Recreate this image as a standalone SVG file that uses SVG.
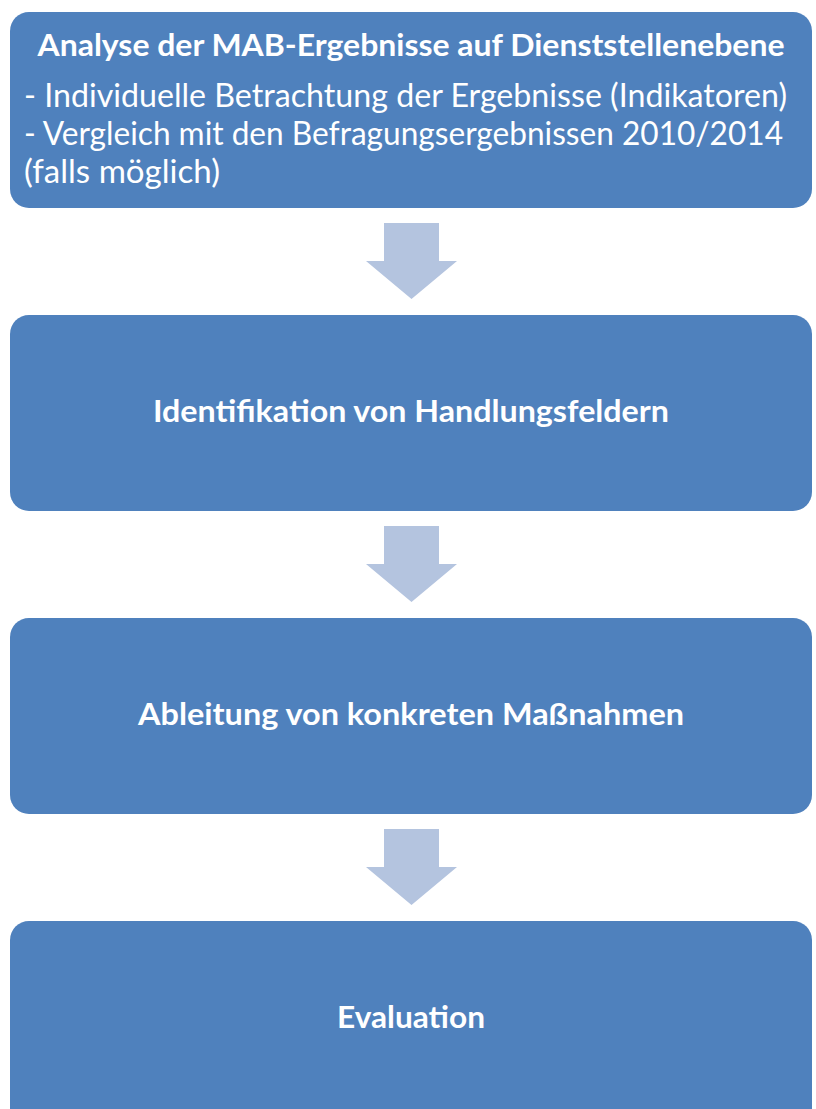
<svg xmlns="http://www.w3.org/2000/svg" width="816" height="1109" viewBox="0 0 816 1109">
<style>
.box{fill:#4F81BD;}
.arr{fill:#B4C4DF;}
.t{font-family:Lato,"Open Sans","Liberation Sans",sans-serif;fill:#FFFFFF;}
.b{font-weight:bold;font-size:30px;text-anchor:middle;}
.n{font-size:33px;}
</style>
<rect width="816" height="1109" fill="#FFFFFF"/>
<g id="connectors">
<path class="arr" d="M384,223 H439 V261 H457 L411.5,299 L366,261 H384 Z"/>
<path class="arr" d="M384,526 H439 V564 H457 L411.5,602 L366,564 H384 Z"/>
<path class="arr" d="M384,829 H439 V867 H457 L411.5,905 L366,867 H384 Z"/>
</g>
<g id="node1">
<rect class="box" x="10" y="12" width="802" height="196" rx="19"/>
<text class="t b" x="411" y="56" textLength="747" lengthAdjust="spacingAndGlyphs">Analyse der MAB-Ergebnisse auf Dienststellenebene</text>
<text class="t n" x="24" y="107" textLength="763" lengthAdjust="spacingAndGlyphs">- Individuelle Betrachtung der Ergebnisse (Indikatoren)</text>
<text class="t n" x="24" y="145" textLength="759" lengthAdjust="spacingAndGlyphs">- Vergleich mit den Befragungsergebnissen 2010/2014</text>
<text class="t n" x="24" y="183" textLength="196" lengthAdjust="spacingAndGlyphs">(falls möglich)</text>
</g>
<g id="node2">
<rect class="box" x="10" y="315" width="802" height="196" rx="19"/>
<text class="t b" x="411" y="422" textLength="516" lengthAdjust="spacingAndGlyphs">Identifikation von Handlungsfeldern</text>
</g>
<g id="node3">
<rect class="box" x="10" y="618" width="802" height="196" rx="19"/>
<text class="t b" x="411" y="725" textLength="546" lengthAdjust="spacingAndGlyphs">Ableitung von konkreten Maßnahmen</text>
</g>
<g id="node4">
<rect class="box" x="10" y="921" width="802" height="210" rx="19"/>
<text class="t b" x="411" y="1028" textLength="148" lengthAdjust="spacingAndGlyphs">Evaluation</text>
</g>
</svg>
